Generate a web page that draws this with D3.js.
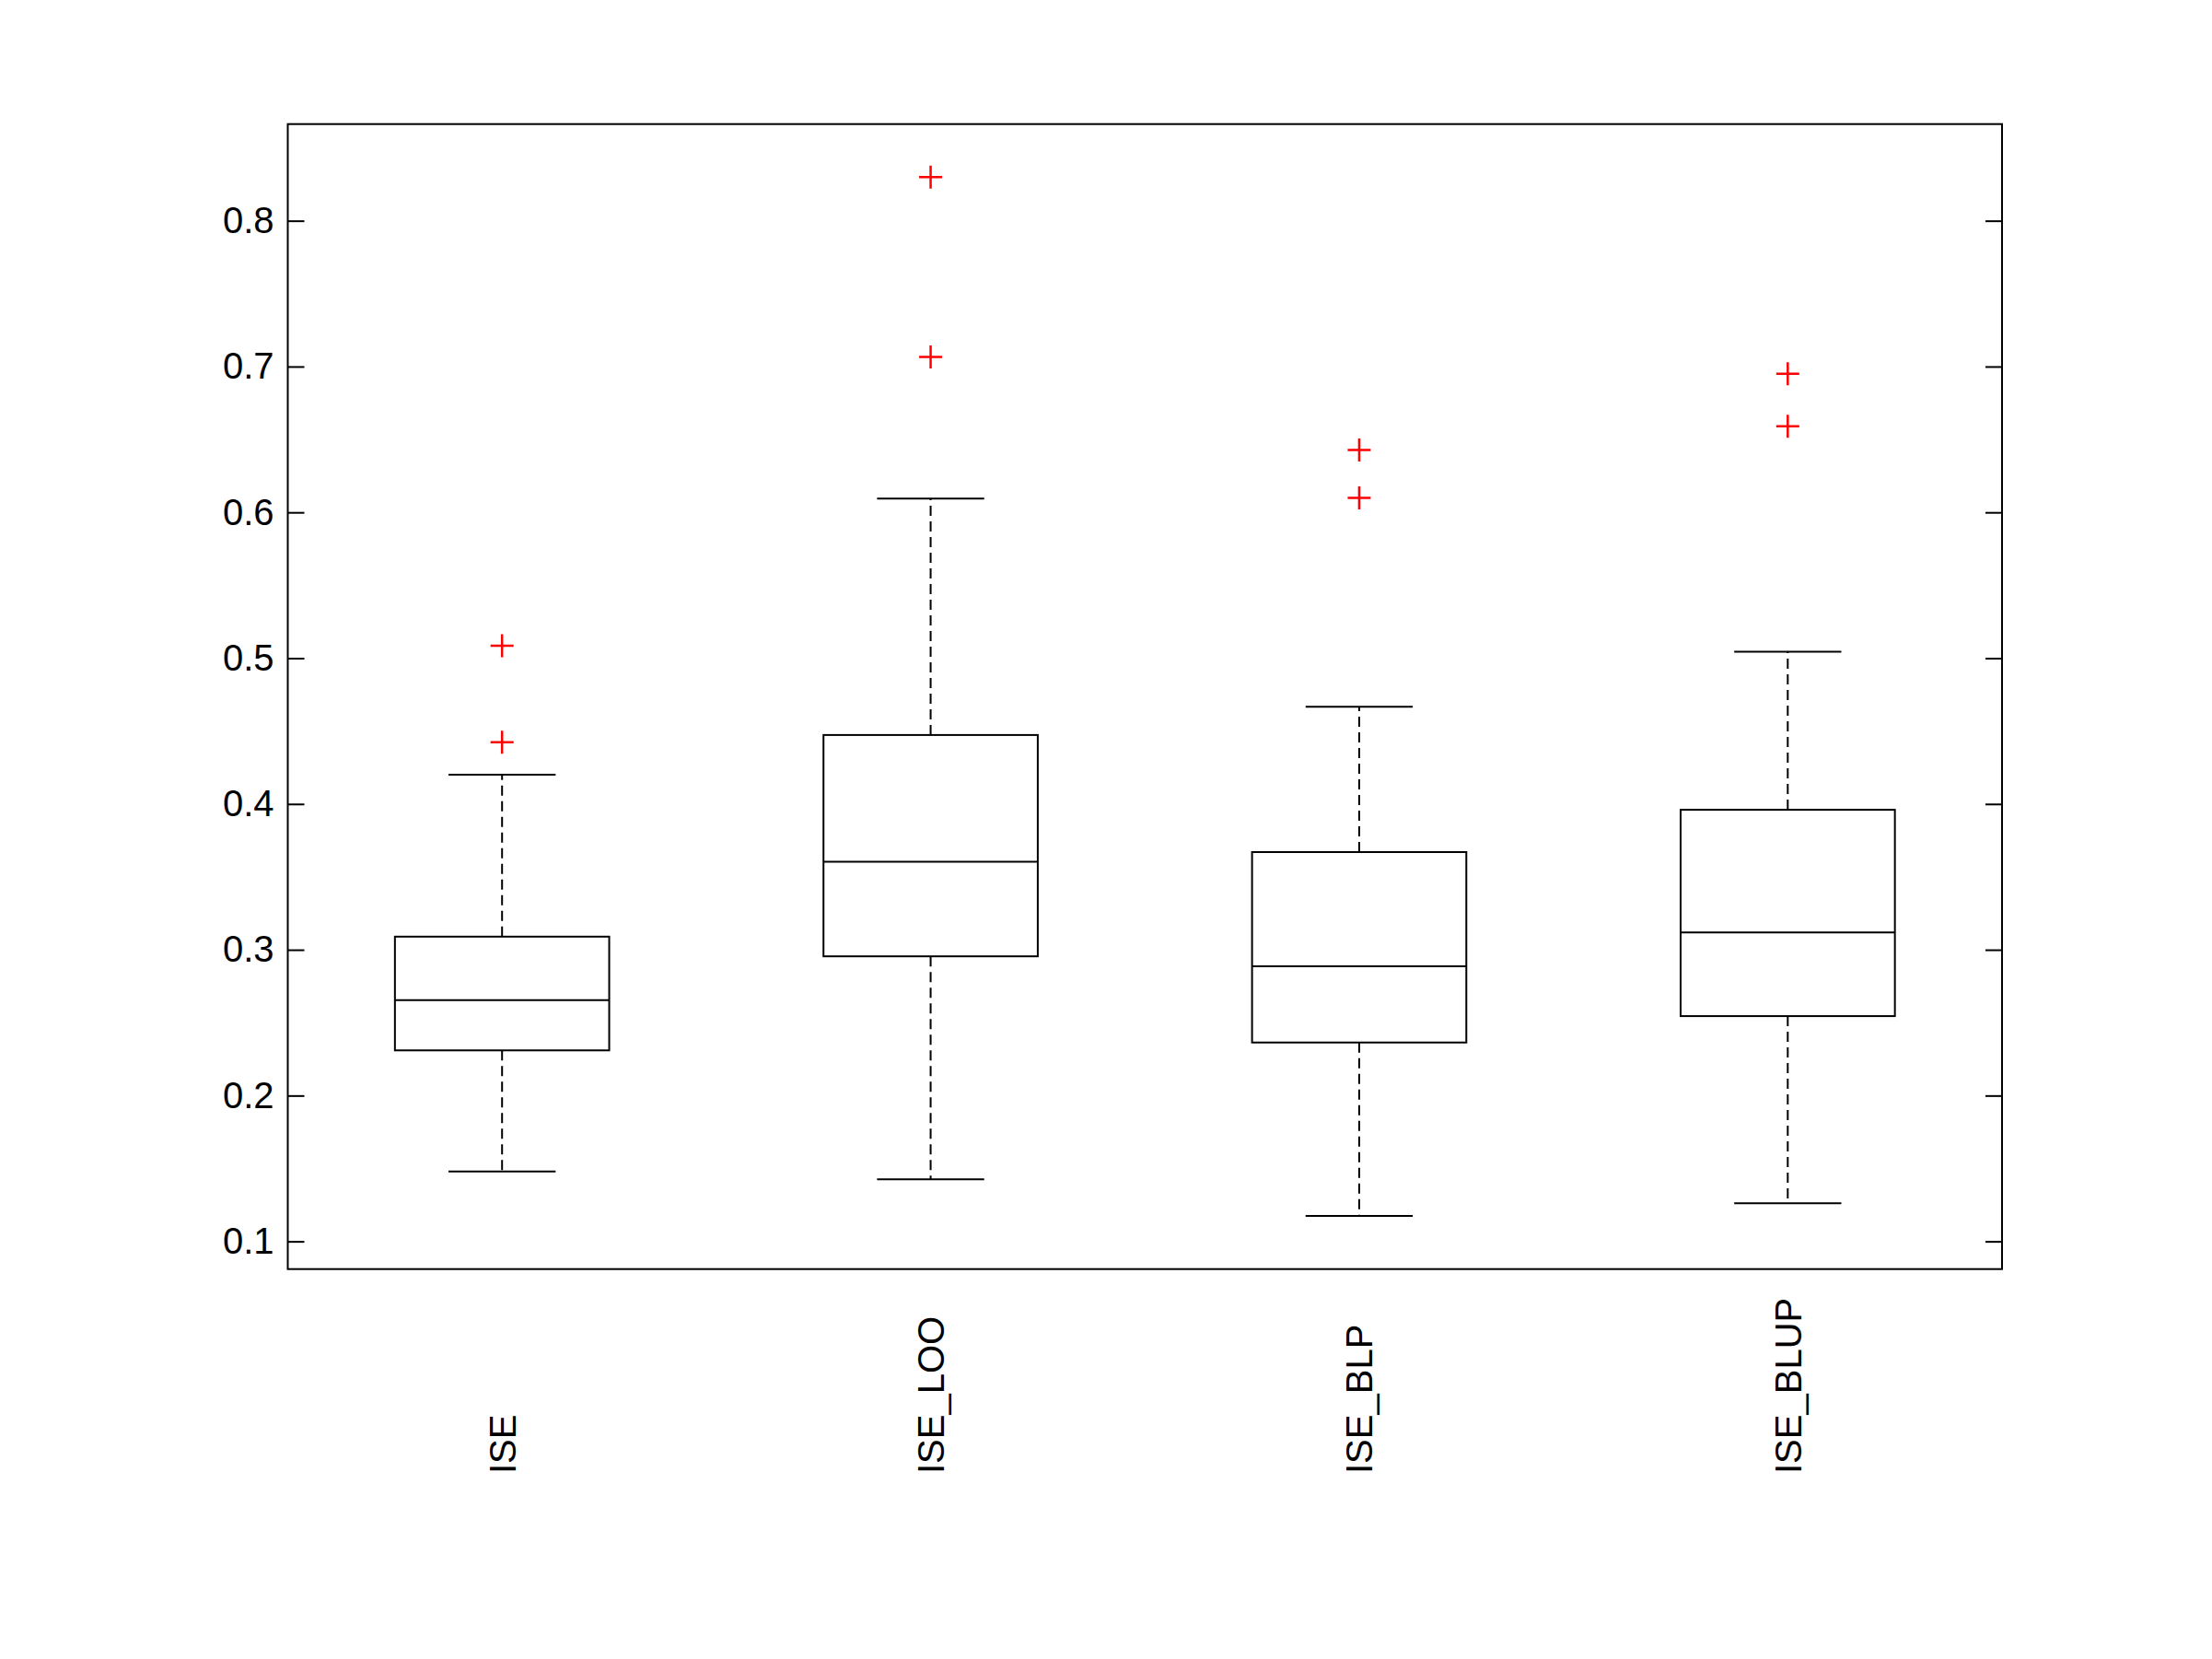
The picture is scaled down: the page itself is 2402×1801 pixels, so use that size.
<!DOCTYPE html>
<html>
<head>
<meta charset="utf-8">
<script src="https://cdn.jsdelivr.net/npm/d3@7"></script>
<style>
  body { margin: 0; background: #fff; }
  svg { display: block; }
  text { font-family: "Liberation Sans", Arial, Helvetica, sans-serif; fill: #000; }
</style>
</head>
<body>
<svg></svg>
<script>
var categories = ["ISE", "ISE_LOO", "ISE_BLP", "ISE_BLUP"];
var lowerWhisker = [0.148, 0.1426, 0.1174, 0.1261];
var q1 = [0.231, 0.2955, 0.2364, 0.2545];
var median = [0.2655, 0.3603, 0.2887, 0.3119];
var q3 = [0.309, 0.4473, 0.367, 0.396];
var upperWhisker = [0.420, 0.6095, 0.4667, 0.5044];
var outliers = [[0.5085, 0.4424], [0.830, 0.7066], [0.6428, 0.6099], [0.695, 0.659]];
var yTicks = [0.1, 0.2, 0.3, 0.4, 0.5, 0.6, 0.7, 0.8];
var yDomain = [0.081, 0.8663];

var width = 2402;
var height = 1801;
var margin = {top: 134.7, bottom: 423.3, left: 312.5, right: 228};

var svg = d3.select("svg")
  .attr("width", width)
  .attr("height", height);

var x = d3.scalePoint()
  .domain(categories)
  .range([margin.left, width - margin.right])
  .padding(0.5);
var step = x.step();
var boxW = step * 0.5;
var capW = step * 0.25;

var y = d3.scaleLinear()
  .domain(yDomain)
  .range([height - margin.bottom, margin.top]);

var boxes = categories.map(function(c, i) {
  return {name: c, lo: lowerWhisker[i], q1: q1[i], med: median[i], q3: q3[i], hi: upperWhisker[i], out: outliers[i]};
});

// axes (ticks inward on both sides)
var yAxis = d3.axisLeft(y).tickValues(yTicks).tickSizeInner(-18).tickSizeOuter(0).tickPadding(15)
  .tickFormat(d3.format(".1f"));
var gl = svg.append("g")
  .attr("transform", "translate(" + [margin.left, 0] + ")")
  .call(yAxis);
gl.select(".domain").remove();
gl.selectAll("line").attr("stroke", "#000").attr("stroke-width", 2);
gl.selectAll("text").attr("font-size", 40).style("font-family", "'Liberation Sans', Arial, sans-serif");

var yAxisR = d3.axisRight(y).tickValues(yTicks).tickSizeInner(-18).tickSizeOuter(0).tickFormat("");
var gr = svg.append("g")
  .attr("transform", "translate(" + [width - margin.right, 0] + ")")
  .call(yAxisR);
gr.select(".domain").remove();
gr.selectAll("line").attr("stroke", "#000").attr("stroke-width", 2);

// frame
svg.append("rect")
  .attr("x", margin.left)
  .attr("y", margin.top)
  .attr("width", width - margin.left - margin.right)
  .attr("height", height - margin.top - margin.bottom)
  .attr("fill", "none")
  .attr("stroke", "#000")
  .attr("stroke-width", 2);

var g = svg.selectAll("g.box")
  .data(boxes)
  .enter().append("g")
  .attr("class", "box");

// whiskers
g.append("line")
  .attr("x1", d => x(d.name)).attr("x2", d => x(d.name))
  .attr("y1", d => y(d.q3)).attr("y2", d => y(d.hi))
  .attr("stroke", "#000").attr("stroke-width", 2).attr("stroke-dasharray", "11,6");
g.append("line")
  .attr("x1", d => x(d.name)).attr("x2", d => x(d.name))
  .attr("y1", d => y(d.q1)).attr("y2", d => y(d.lo))
  .attr("stroke", "#000").attr("stroke-width", 2).attr("stroke-dasharray", "11,6");

// caps
g.append("line")
  .attr("x1", d => x(d.name) - capW / 2).attr("x2", d => x(d.name) + capW / 2)
  .attr("y1", d => y(d.hi)).attr("y2", d => y(d.hi))
  .attr("stroke", "#000").attr("stroke-width", 2);
g.append("line")
  .attr("x1", d => x(d.name) - capW / 2).attr("x2", d => x(d.name) + capW / 2)
  .attr("y1", d => y(d.lo)).attr("y2", d => y(d.lo))
  .attr("stroke", "#000").attr("stroke-width", 2);

// box
g.append("rect")
  .attr("x", d => x(d.name) - boxW / 2)
  .attr("y", d => y(d.q3))
  .attr("width", boxW)
  .attr("height", d => y(d.q1) - y(d.q3))
  .attr("fill", "#fff")
  .attr("stroke", "#000")
  .attr("stroke-width", 2);

// median
g.append("line")
  .attr("x1", d => x(d.name) - boxW / 2).attr("x2", d => x(d.name) + boxW / 2)
  .attr("y1", d => y(d.med)).attr("y2", d => y(d.med))
  .attr("stroke", "#000").attr("stroke-width", 2);

// outliers as red plus signs
g.selectAll("path.out")
  .data(d => d.out.map(v => ({name: d.name, v: v})))
  .enter().append("path")
  .attr("class", "out")
  .attr("d", d => {
    var cx = x(d.name), cy = y(d.v), r = 12.5;
    return "M" + (cx - r) + "," + cy + "H" + (cx + r) + "M" + cx + "," + (cy - r) + "V" + (cy + r);
  })
  .attr("fill", "none")
  .attr("stroke", "#ff0000")
  .attr("stroke-width", 2.5);

// rotated category labels
svg.selectAll("text.cat")
  .data(categories)
  .enter().append("text")
  .attr("class", "cat")
  .attr("transform", d => "translate(" + [x(d), 1600] + ") rotate(-90)")
  .attr("dy", "0.36em")
  .attr("text-anchor", "start")
  .attr("font-size", 40)
  .text(d => d);
</script>
</body>
</html>
